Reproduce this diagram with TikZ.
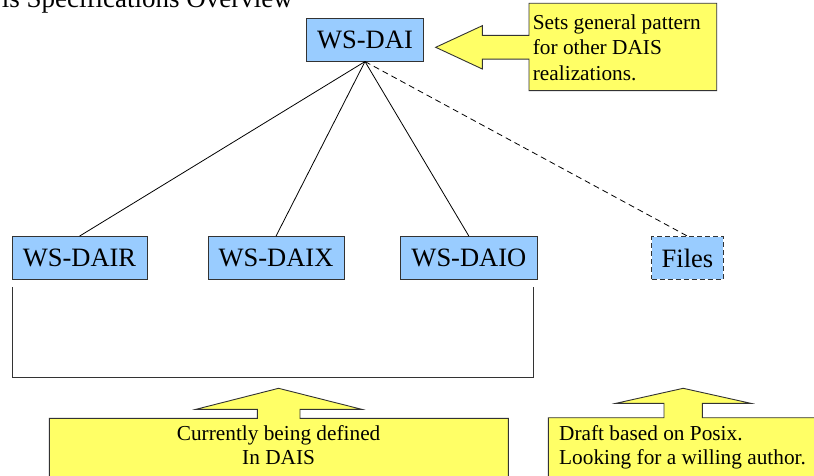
\documentclass[tikz,border=0pt]{standalone}
\usepackage{fontspec}
\setmainfont{Liberation Serif}
\definecolor{boxblue}{HTML}{99CCFF}
\definecolor{noteyellow}{HTML}{FFFF66}
\definecolor{edgegray}{HTML}{333333}
\tikzset{
  specbox/.style={draw=edgegray, line width=1pt, fill=boxblue, inner sep=0pt,
    minimum height=42.7pt, font=\fontsize{26.5}{30}\selectfont},
  note/.style={draw=edgegray, line width=0.9pt, fill=noteyellow},
  notetext/.style={inner sep=0pt, font=\fontsize{21.3}{25}\selectfont},
  link/.style={line width=0.8pt, black},
}
\begin{document}
\begin{tikzpicture}[x=1pt, y=-1pt]
\useasboundingbox (0,0) rectangle (814,476);
\clip (0,0) rectangle (814,476);
\fill[white] (0,0) rectangle (814,476);

% title (clipped at the top edge)
\node[inner sep=0pt, anchor=base east, font=\fontsize{27}{30}\selectfont] (title) at (293,7.3) {is Specifications Overview};

% boxes
\node[specbox, minimum width=116.6pt] (dai)  at (365,39.7) {WS-DAI};
\node[specbox, minimum width=135pt]   (dair) at (79.5,258) {WS-DAIR};
\node[specbox, minimum width=136pt]   (daix) at (276,258) {WS-DAIX};
\node[specbox, minimum width=136.3pt] (daio) at (468.9,258) {WS-DAIO};
\node[specbox, minimum width=71.6pt, dashed, dash pattern=on 5pt off 3pt] (files) at (687.5,258) {Files};

% connectors
\draw[link] (dai.south) -- (dair.north);
\draw[link] (dai.south) -- (daix.north);
\draw[link] (dai.south) -- (daio.north);
\draw[link, dash pattern=on 6pt off 4pt] (dai.south) -- (files.north);

% bracket under the three defined specs
\coordinate (brl) at (12,287);
\coordinate (brr) at (533,287);
\draw[line width=0.9pt, edgegray] (brl) -- (12,377.7) -- (533,377.7) -- (brr);

% top-right callout (left arrow)
\draw[note] (529,3.3) -- (716.7,3.3) -- (716.7,90.7) -- (529,90.7) -- (529,59.2)
  -- (482.3,59.2) -- (482.3,69) -- (435.7,47.3) -- (482.3,25.7) -- (482.3,35.4)
  -- (529,35.4) -- cycle;
\node[notetext, anchor=base west] (n1a) at (532.7,29.3) {Sets general pattern};
\node[notetext, anchor=base west] (n1b) at (532.7,55) {for other DAIS};
\node[notetext, anchor=base west] (n1c) at (532.7,80.5) {realizations.};

% bottom-left callout (up arrow)
\draw[note] (49.3,418.3) -- (257.3,418.3) -- (257.3,409.3) -- (196,409.3)
  -- (278.6,388.3) -- (361.7,409.3) -- (300,409.3) -- (300,418.3)
  -- (508.3,418.3) -- (508.3,495) -- (49.3,495) -- cycle;
\node[notetext, anchor=base] (n2a) at (278.6,440.5) {Currently being defined};
\node[notetext, anchor=base] (n2b) at (278.6,464.5) {In DAIS};

% bottom-right callout (up arrow)
\draw[note] (548.3,417.7) -- (664,417.7) -- (664,403.3) -- (616,403.3)
  -- (683.2,388.3) -- (750.7,403.3) -- (702.3,403.3) -- (702.3,417.7)
  -- (830,417.7) -- (830,495) -- (548.3,495) -- cycle;
\node[notetext, anchor=base west] (n3a) at (559,440.5) {Draft based on Posix.};
\node[notetext, anchor=base west] (n3b) at (559,464) {Looking for a willing author.};
\end{tikzpicture}
\end{document}
